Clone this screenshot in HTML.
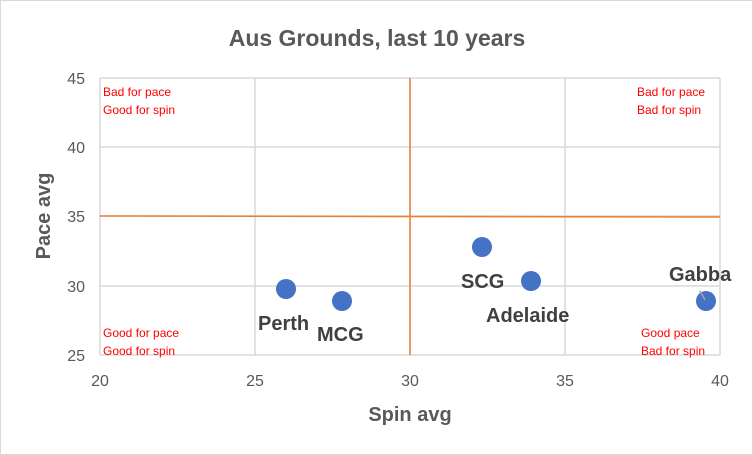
<!DOCTYPE html>
<html><head><meta charset="utf-8"><style>
html,body{margin:0;padding:0;background:#fff}
svg{display:block}
text{font-family:"Liberation Sans",sans-serif}
</style></head><body>
<svg width="753" height="455" viewBox="0 0 753 455">
<rect x="0.5" y="0.5" width="752" height="454" fill="#fff" stroke="#d9d9d9"/>
<text x="377" y="46" text-anchor="middle" font-size="23" font-weight="bold" fill="#595959">Aus Grounds, last 10 years</text>
<g stroke="#d9d9d9" stroke-width="1.5" fill="none">
<line x1="100" y1="78" x2="720" y2="78"/>
<line x1="100" y1="147" x2="720" y2="147"/>
<line x1="100" y1="216" x2="720" y2="216"/>
<line x1="100" y1="286" x2="720" y2="286"/>
<line x1="100" y1="355" x2="720" y2="355"/>
<line x1="100" y1="78" x2="100" y2="355"/>
<line x1="255" y1="78" x2="255" y2="355"/>
<line x1="410" y1="78" x2="410" y2="355"/>
<line x1="565" y1="78" x2="565" y2="355"/>
<line x1="720" y1="78" x2="720" y2="355"/>
</g>
<g font-size="16" fill="#595959">
<text x="85" y="84" text-anchor="end">45</text>
<text x="85" y="153" text-anchor="end">40</text>
<text x="85" y="222" text-anchor="end">35</text>
<text x="85" y="292" text-anchor="end">30</text>
<text x="85" y="361" text-anchor="end">25</text>
<text x="100" y="386" text-anchor="middle">20</text>
<text x="255" y="386" text-anchor="middle">25</text>
<text x="410" y="386" text-anchor="middle">30</text>
<text x="565" y="386" text-anchor="middle">35</text>
<text x="720" y="386" text-anchor="middle">40</text>
</g>
<text x="410" y="421" text-anchor="middle" font-size="20" font-weight="bold" fill="#595959">Spin avg</text>
<text transform="translate(50,216) rotate(-90)" text-anchor="middle" font-size="20" font-weight="bold" fill="#595959">Pace avg</text>
<g stroke="#ed7d31" stroke-width="1.5">
<line x1="410" y1="78" x2="410" y2="355"/>
<line x1="100" y1="216" x2="720" y2="217"/>
</g>
<g font-size="12" fill="#ff0000">
<text x="103" y="96">Bad for pace</text>
<text x="103" y="114">Good for spin</text>
<text x="637" y="96">Bad for pace</text>
<text x="637" y="114">Bad for spin</text>
<text x="103" y="337">Good for pace</text>
<text x="103" y="355">Good for spin</text>
<text x="641" y="337">Good pace</text>
<text x="641" y="355">Bad for spin</text>
</g>
<g fill="#4472c4">
<circle cx="286" cy="289" r="10"/>
<circle cx="342" cy="301" r="10"/>
<circle cx="482" cy="247" r="10"/>
<circle cx="531" cy="281" r="10"/>
<circle cx="706" cy="301" r="10"/>
</g>
<line x1="700" y1="291" x2="705" y2="300" stroke="#a6a6a6" stroke-width="1.5"/>
<g font-size="20" font-weight="bold" fill="#404040">
<text x="258" y="330">Perth</text>
<text x="317" y="341">MCG</text>
<text x="461" y="288">SCG</text>
<text x="486" y="322">Adelaide</text>
<text x="669" y="281">Gabba</text>
</g>
</svg>
</body></html>
